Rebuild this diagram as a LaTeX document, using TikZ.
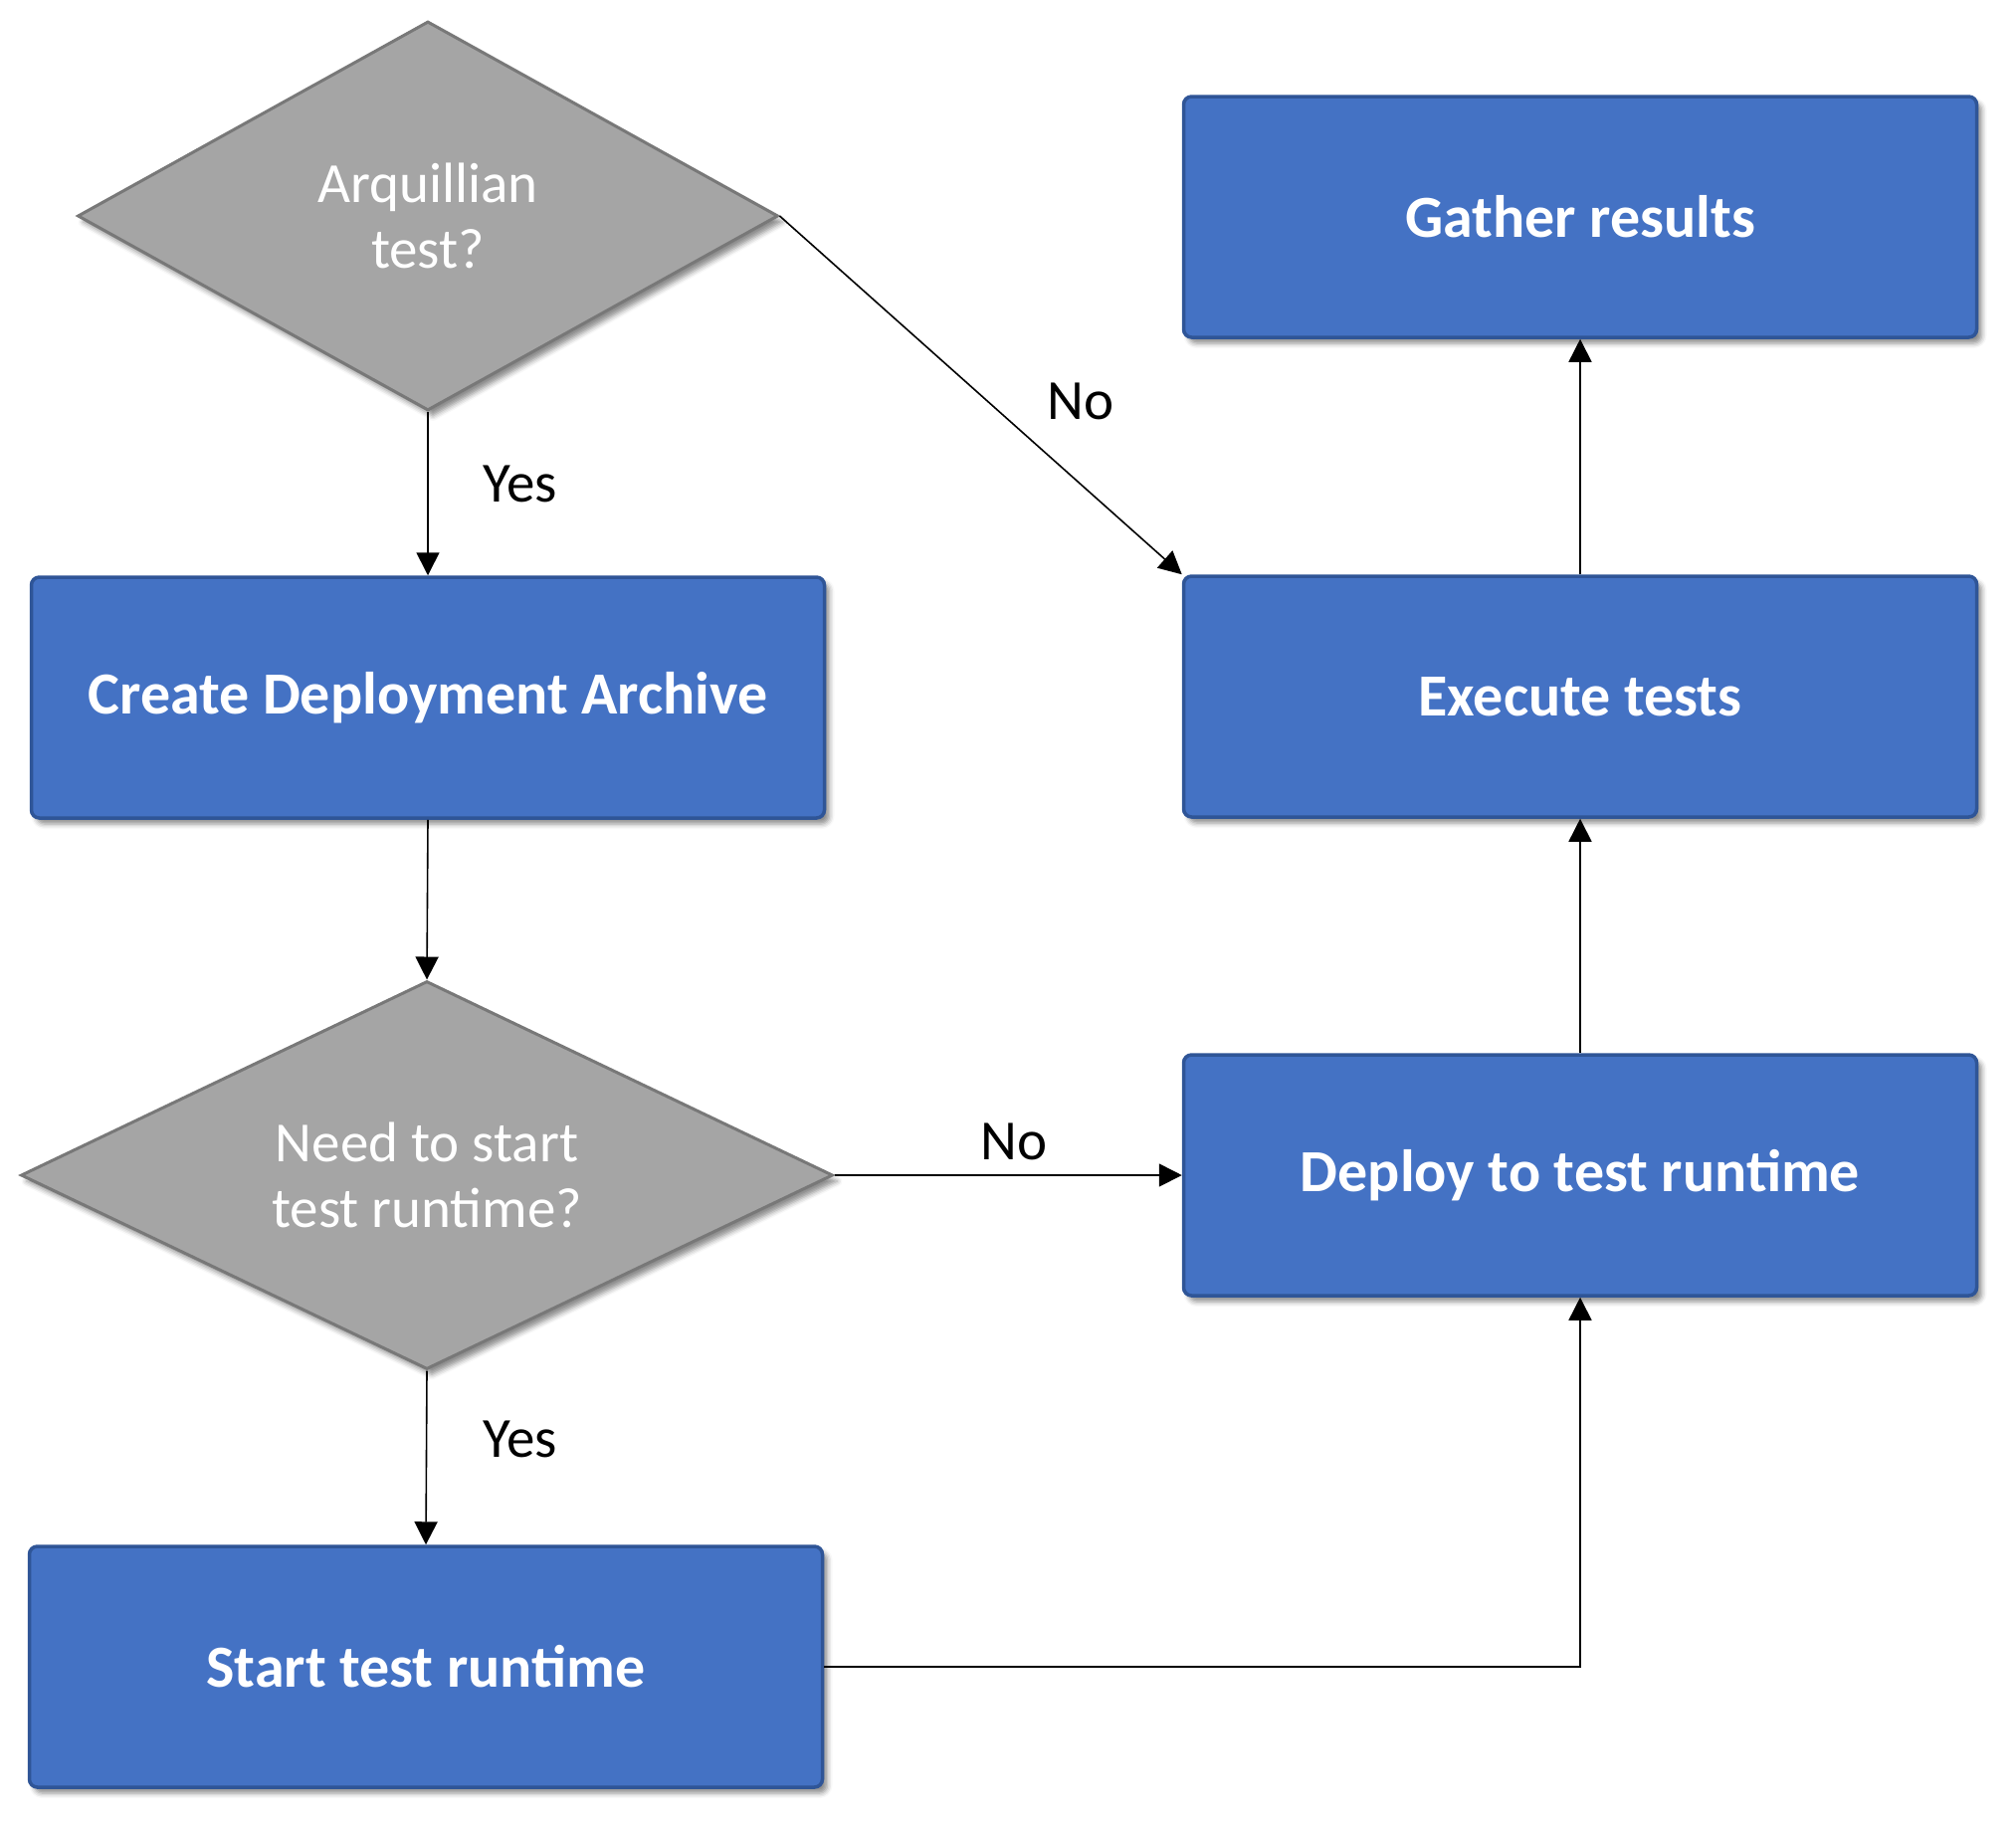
\documentclass[tikz,border=0pt]{standalone}
\usepackage{fontspec}
\setmainfont{Carlito}
\usetikzlibrary{shapes.geometric,arrows.meta,shadows.blur}
\definecolor{boxfill}{HTML}{4472C4}
\definecolor{boxborder}{HTML}{2F5597}
\definecolor{diafill}{HTML}{A5A5A5}
\definecolor{diaborder}{HTML}{787878}
\begin{document}
\begin{tikzpicture}[x=1pt,y=-1pt,
  box/.style={draw=boxborder, line width=3.5pt, fill=boxfill, rounded corners=8pt,
    minimum width=797pt, minimum height=242pt, inner sep=0pt, text=white,
    font=\bfseries\fontsize{60}{66}\selectfont,
    blur shadow={shadow xshift=5pt,shadow yshift=-6pt,shadow blur radius=5pt,shadow opacity=45}},
  decision/.style={diamond, draw=diaborder, line width=3pt, fill=diafill, aspect=2,
    inner sep=0pt, text=white, align=center, font=\fontsize{57}{66}\selectfont,
    blur shadow={shadow xshift=5pt,shadow yshift=-6pt,shadow blur radius=5pt,shadow opacity=45}},
  conn/.style={line width=1.6pt, -{Triangle[length=23pt,width=23pt]}},
  lbl/.style={font=\fontsize{57}{62}\selectfont}
]
\useasboundingbox (0,0) rectangle (2026,1832);
\node[decision, minimum width=704pt, minimum height=391pt] (q1) at (430,217) {Arquillian\\test?};
\node[box] (create) at (430,701) {Create Deployment Archive};
\node[decision, minimum width=816pt, minimum height=390pt] (q2) at (429,1181) {Need to start\\test runtime?};
\node[box] (start) at (428,1675) {Start test runtime};
\node[box] (gather) at (1588,218) {Gather results};
\node[box] (exec) at (1588,700) {Execute tests};
\node[box] (deploy) at (1588,1181) {Deploy to test runtime};

\draw[conn] (q1.south) -- (create.north);
\draw[conn] (q1.east) -- (exec.north west);
\draw[conn] (create.south) -- (q2.north);
\draw[conn] (q2.east) -- (deploy.west);
\draw[conn] (q2.south) -- (start.north);
\draw[conn] (start.east) -| (deploy.south);
\draw[conn] (deploy.north) -- (exec.south);
\draw[conn] (exec.north) -- (gather.south);

\node[lbl] (yes1) at (523,486) {Yes};
\node[lbl] (no1) at (1086,403) {No};
\node[lbl] (no2) at (1019,1147) {No};
\node[lbl] (yes2) at (523,1446) {Yes};
\end{tikzpicture}
\end{document}
